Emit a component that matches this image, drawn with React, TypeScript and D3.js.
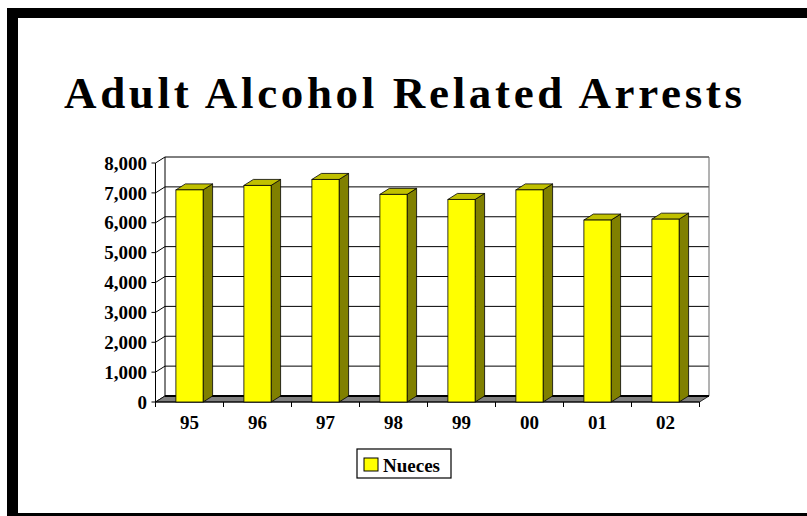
import React from "react";
import * as d3 from "d3";

const years = ["95", "96", "97", "98", "99", "00", "01", "02"];
const arrests = [7100, 7250, 7450, 6950, 6780, 7100, 6090, 6120];
const yTicks = [0, 1000, 2000, 3000, 4000, 5000, 6000, 7000, 8000];
const seriesName = "Nueces";
const title = "Adult Alcohol Related Arrests";

const W = 807;
const H = 516;
const FONT = "'Liberation Serif', 'Times New Roman', serif";

export default function App() {
  const x0 = 155.5;
  const x1 = 699.5;
  const dx = 9.5;
  const dy = -6;
  const y = d3.scaleLinear().domain([0, 8000]).range([402, 163]);
  const x = d3
    .scaleBand<string>()
    .domain(years)
    .range([x0, x1])
    .paddingInner(0.6)
    .paddingOuter(0.3);
  const step = x.step();
  const bw = x.bandwidth();
  const yb = y(0);
  const fmt = d3.format(",");
  const boundaries = d3.range(years.length + 1).map((i) => x0 + i * step);

  return (
    <svg
      width={W}
      height={H}
      viewBox={`0 0 ${W} ${H}`}
      style={{ position: "absolute", left: 0, top: 0, background: "#fff" }}
    >
      <rect x={0} y={0} width={W} height={H} fill="#fff" />
      {/* frame */}
      <rect x={7} y={8} width={W - 7} height={10} fill="#000" />
      <rect x={7} y={8} width={11} height={H - 8} fill="#000" />
      <rect x={7} y={513} width={W - 7} height={3} fill="#000" />

      <text
        x={403}
        y={108}
        textAnchor="middle"
        fontFamily={FONT}
        fontWeight="bold"
        fontSize={45}
        textLength={678}
        lengthAdjust="spacing"
        fill="#000"
      >
        {title}
      </text>

      {/* back wall */}
      <rect
        x={x0 + dx}
        y={y(8000) + dy}
        width={x1 - x0}
        height={yb - y(8000)}
        fill="#fff"
        stroke="none"
      />
      {yTicks.map((t) => (
        <g key={"g" + t}>
          <line
            x1={x0 + dx}
            x2={x1 + dx}
            y1={y(t) + dy}
            y2={y(t) + dy}
            stroke="#000"
            strokeWidth={1}
          />
          <line
            x1={x0}
            x2={x0 + dx}
            y1={y(t)}
            y2={y(t) + dy}
            stroke="#000"
            strokeWidth={1}
          />
          <line x1={x0 - 4} x2={x0} y1={y(t)} y2={y(t)} stroke="#000" strokeWidth={1} />
          <text
            x={147}
            y={y(t)}
            dy="0.35em"
            textAnchor="end"
            fontFamily={FONT}
            fontWeight="bold"
            fontSize={19}
            fill="#000"
          >
            {fmt(t)}
          </text>
        </g>
      ))}
      <line x1={x0 + dx} x2={x0 + dx} y1={y(8000) + dy} y2={yb + dy} stroke="#000" strokeWidth={1} />
      <line x1={x1 + dx} x2={x1 + dx} y1={y(8000) + dy} y2={yb + dy} stroke="#666" strokeWidth={1} />

      {/* floor */}
      <polygon
        points={`${x0},${yb} ${x1},${yb} ${x1 + dx},${yb + dy} ${x0 + dx},${yb + dy}`}
        fill="#808080"
        stroke="#000"
        strokeWidth={0.8}
      />
      <line x1={x0 + dx} x2={x1 + dx} y1={yb + dy} y2={yb + dy} stroke="#000" strokeWidth={2} />

      {/* y axis front */}
      <line x1={x0} x2={x0} y1={y(8000)} y2={yb} stroke="#000" strokeWidth={1} />
      {/* x axis */}
      <line x1={x0} x2={x1} y1={yb} y2={yb} stroke="#000" strokeWidth={1} />
      {boundaries.map((b, i) => (
        <line key={"xt" + i} x1={b} x2={b} y1={yb} y2={yb + 5} stroke="#000" strokeWidth={1} />
      ))}

      {/* bars */}
      {years.map((yr, i) => {
        const bx = x(yr) as number;
        const by = y(arrests[i]);
        return (
          <g key={yr}>
            <polygon
              points={`${bx + bw},${by} ${bx + bw + dx},${by + dy} ${bx + bw + dx},${yb + dy} ${bx + bw},${yb}`}
              fill="#808000"
              stroke="#000"
              strokeWidth={0.8}
            />
            <polygon
              points={`${bx},${by} ${bx + dx},${by + dy} ${bx + bw + dx},${by + dy} ${bx + bw},${by}`}
              fill="#C0C000"
              stroke="#000"
              strokeWidth={0.8}
            />
            <rect x={bx} y={by} width={bw} height={yb - by} fill="#FFFF00" stroke="#000" strokeWidth={0.8} />
            <text
              x={bx + bw / 2}
              y={429}
              textAnchor="middle"
              fontFamily={FONT}
              fontWeight="bold"
              fontSize={19}
              fill="#000"
            >
              {yr}
            </text>
          </g>
        );
      })}

      {/* legend */}
      <rect x={357} y={449} width={94} height={29} fill="#fff" stroke="#000" strokeWidth={1.2} />
      <rect x={364} y={458} width={14} height={13} fill="#FFFF00" stroke="#000" strokeWidth={1} />
      <text x={383} y={471.5} fontFamily={FONT} fontWeight="bold" fontSize={19} fill="#000">
        {seriesName}
      </text>
    </svg>
  );
}
